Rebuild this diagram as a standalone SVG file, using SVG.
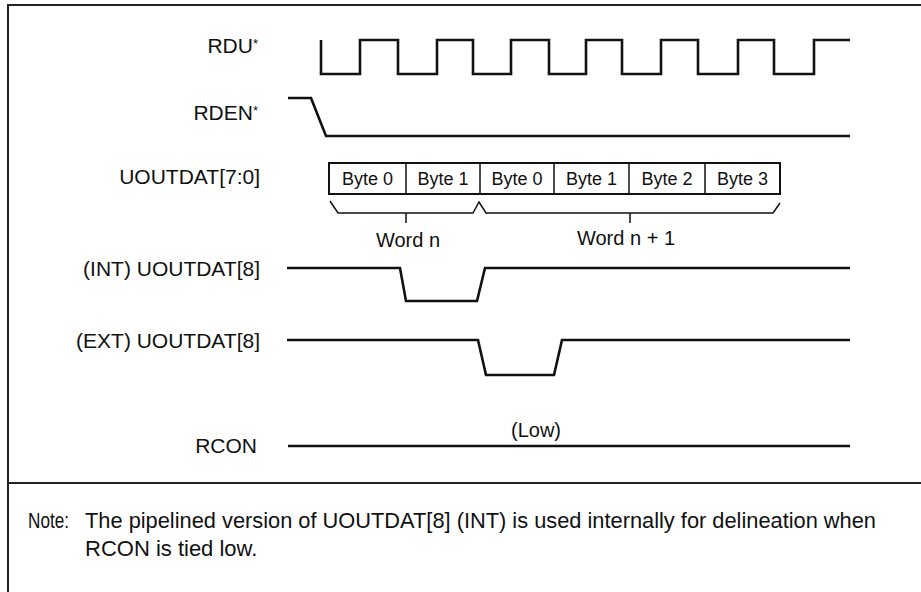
<svg xmlns="http://www.w3.org/2000/svg" width="921" height="592" viewBox="0 0 921 592">
<style>
  text { font-family: "Liberation Sans", Arial, sans-serif; fill: #111; }
  .lbl { font-size: 21px; text-anchor: end; }
  .ast { font-size: 13px; }
  .mid { font-size: 20px; text-anchor: middle; }
  .byte { font-size: 18px; text-anchor: middle; }
  .note { font-size: 22px; }
  .sig { fill: none; stroke: #111; stroke-width: 2.6; stroke-linejoin: miter; }
  .thin { fill: none; stroke: #111; stroke-width: 1.5; }
  .frame { fill: none; stroke: #222; stroke-width: 2; }
</style>
<rect x="0" y="0" width="921" height="592" fill="#fff"/>
<g id="frame">
  <path class="frame" d="M8,592 V5 H921"/>
  <path class="frame" d="M8,483 H921"/>
</g>
<g id="labels">
  <text class="lbl" x="258" y="53">RDU<tspan class="ast" dy="-5">*</tspan></text>
  <text class="lbl" x="258" y="120">RDEN<tspan class="ast" dy="-5">*</tspan></text>
  <text class="lbl" x="260" y="184">UOUTDAT[7:0]</text>
  <text class="lbl" x="260" y="276">(INT) UOUTDAT[8]</text>
  <text class="lbl" x="260" y="348">(EXT) UOUTDAT[8]</text>
  <text class="lbl" x="257" y="453">RCON</text>
</g>
<g id="connectors">
  <path id="rdu" class="sig" d="M321,40 V74 H360 V40 H398 V74 H437 V40 H473 V74 H511 V40 H549 V74 H586 V40 H622 V74 H661 V40 H698 V74 H738 V40 H774 V74 H814 V40 H850"/>
  <path id="rden" class="sig" d="M288,98 H311 L326,136 H850"/>
  <path id="int" class="sig" d="M287,268 H400 L406,301 H477 L485,268 H850"/>
  <path id="ext" class="sig" d="M287,340 H478 L486,375 H554 L562,340 H850"/>
  <path id="rcon" class="sig" d="M288,446 H850"/>
  <path id="brace" class="thin" d="M330,201 L338,213 H473 L479,202 L486,213 H773 L780,203 M406,213 V223 M630,213 V223"/>
</g>
<g id="bytes">
  <rect x="329" y="163" width="451" height="31" fill="none" stroke="#111" stroke-width="2"/>
  <path class="thin" d="M406,163 V194 M480,163 V194 M554,163 V194 M629,163 V194 M705,163 V194"/>
  <text class="byte" x="367.5" y="185">Byte 0</text>
  <text class="byte" x="443" y="185">Byte 1</text>
  <text class="byte" x="517" y="185">Byte 0</text>
  <text class="byte" x="591.5" y="185">Byte 1</text>
  <text class="byte" x="667" y="185">Byte 2</text>
  <text class="byte" x="742.5" y="185">Byte 3</text>
</g>
<g id="words">
  <text class="mid" x="408" y="247">Word n</text>
  <text class="mid" x="626" y="245">Word n + 1</text>
  <text class="mid" x="536" y="437">(Low)</text>
</g>
<g id="note">
  <text class="note" x="28" y="528" textLength="41" lengthAdjust="spacingAndGlyphs">Note:</text>
  <text class="note" x="85" y="528" textLength="791" lengthAdjust="spacingAndGlyphs">The pipelined version of UOUTDAT[8] (INT) is used internally for delineation when</text>
  <text class="note" x="85" y="556">RCON is tied low.</text>
</g>
</svg>
